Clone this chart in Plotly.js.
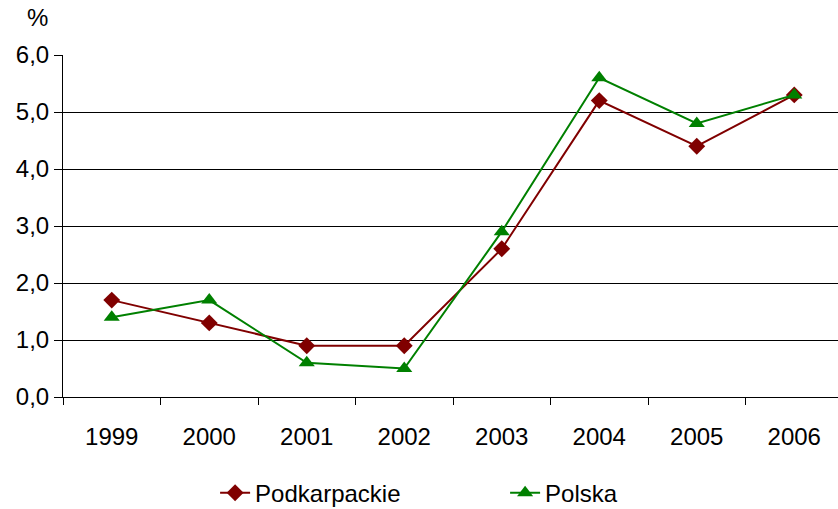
<!DOCTYPE html>
<html><head><meta charset="utf-8">
<script src="https://cdn.plot.ly/plotly-3.0.1.min.js"></script>
<style>html,body{margin:0;padding:0;overflow:hidden;background:#fff}</style>
</head><body><div id="chart"></div>
<script>
const years = ["1999","2000","2001","2002","2003","2004","2005","2006"];
const podkarpackie = [1.7, 1.3, 0.9, 0.9, 2.6, 5.2, 4.4, 5.3];
const polska = [1.4, 1.7, 0.6, 0.5, 2.9, 5.6, 4.8, 5.3];
const yTicks = [0,1,2,3,4,5,6];
const yTickText = ["0,0","1,0","2,0","3,0","4,0","5,0","6,0"];

const font = {family: "Liberation Sans, Arial, sans-serif", size: 24, color: "#000"};
const traces = [
  {x: years, y: podkarpackie, name: "Podkarpackie", type: "scatter", mode: "lines+markers",
   line: {color: "#800000", width: 2}, marker: {symbol: "diamond", size: 13, color: "#800000"}},
  {x: years, y: polska, name: "Polska", type: "scatter", mode: "lines+markers",
   line: {color: "#008000", width: 2}, marker: {symbol: "triangle-up", size: 14, color: "#008000"}}
];
const layout = {
  width: 843, height: 509,
  margin: {l: 63, r: 0, t: 55, b: 112, autoexpand: false},
  paper_bgcolor: "#fff", plot_bgcolor: "#fff",
  font: font,
  showlegend: true,
  legend: {orientation: "h", x: 0.195, xanchor: "left", y: -0.281, yanchor: "middle",
           font: font, entrywidth: 245, entrywidthmode: "pixels", bgcolor: "rgba(0,0,0,0)"},
  xaxis: {type: "category", range: [-0.5, 7.5], showline: true, linecolor: "#000", linewidth: 1,
          ticks: "outside", tickson: "boundaries", ticklen: 7, tickcolor: "#000", automargin: false,
          showgrid: false, zeroline: false, ticklabelstandoff: 18, tickfont: font, fixedrange: true},
  yaxis: {range: [0, 6], tickvals: yTicks, ticktext: yTickText, showline: true, linecolor: "#000",
          linewidth: 1, ticks: "outside", ticklen: 8, tickcolor: "#000", showgrid: true, automargin: false,
          gridcolor: "#000", gridwidth: 1, zeroline: false, tickfont: font, fixedrange: true},
  annotations: [{text: "%", xref: "paper", yref: "paper", x: -0.033, y: 1.11, xanchor: "center",
                 yanchor: "middle", showarrow: false, font: font}]
};
Plotly.newPlot("chart", traces, layout, {displayModeBar: false, staticPlot: true});
</script></body></html>
